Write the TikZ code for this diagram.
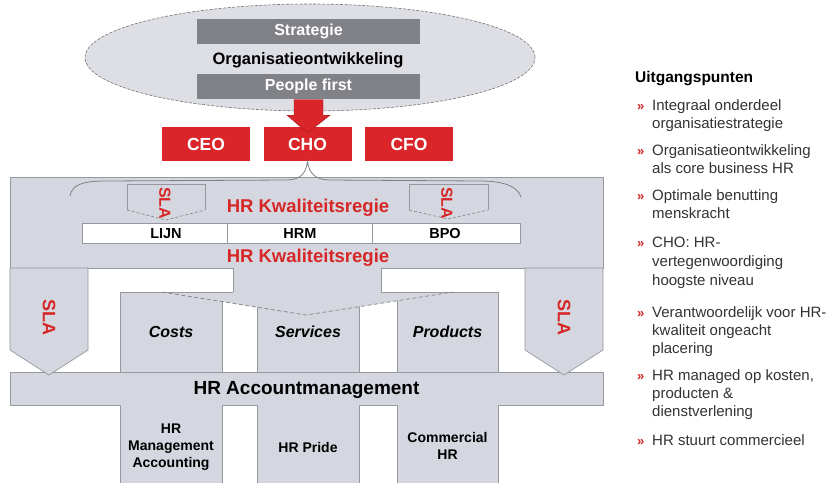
\documentclass[tikz,border=0pt]{standalone}
\usepackage{fontspec}
\setmainfont{Liberation Sans}
\usetikzlibrary{calc,shapes.geometric}
\definecolor{boxgray}{RGB}{212,215,223}
\definecolor{linegray}{RGB}{150,152,158}
\definecolor{bargray}{RGB}{128,130,136}
\definecolor{hrred}{RGB}{218,37,42}
\definecolor{txtred}{RGB}{214,38,38}
\definecolor{ellgray}{RGB}{221,223,229}
\begin{document}
\begin{tikzpicture}[x=1pt,y=-1pt,
 gline/.style={draw=linegray,line width=0.7pt},
 darkbar/.style={fill=bargray,text=white,font=\bfseries\fontsize{16}{16}\selectfont,minimum width=223pt,minimum height=25pt,inner sep=0pt},
 redbox/.style={fill=hrred,text=white,font=\bfseries\fontsize{17.5}{18}\selectfont,minimum width=88pt,minimum height=34pt,inner sep=0pt},
 redlbl/.style={text=txtred,font=\bfseries\fontsize{18.5}{19}\selectfont,inner sep=0pt},
 slalbl/.style={text=txtred,font=\bfseries\fontsize{18}{18}\selectfont,rotate=-90,inner sep=0pt},
 cell/.style={draw=linegray,fill=white,line width=0.6pt,minimum height=20pt,inner sep=0pt},
 celltxt/.style={font=\bfseries\fontsize{14.5}{15}\selectfont,inner sep=0pt},
 boxlbl/.style={font=\bfseries\itshape\fontsize{16}{16}\selectfont,inner sep=0pt},
 btxt/.style={font=\bfseries\fontsize{14}{16.7}\selectfont,align=center,inner sep=0pt},
 body/.style={font=\fontsize{15}{18}\selectfont,anchor=base west,inner sep=0pt,text=black!80},
 bulletmark/.style={font=\bfseries\fontsize{13}{13}\selectfont,text=txtred,anchor=base west,inner sep=0pt},
]
\useasboundingbox[fill=white] (0,0) rectangle (832,483);

% ---- ellipse with bars
\node[ellipse,draw=black!55,dash pattern=on 3pt off 1.5pt,line width=0.6pt,fill=ellgray,minimum width=450pt,minimum height=107pt,inner sep=0pt] (ell) at (310,57.5) {};
\node[darkbar] (strat) at (308.5,31) {Strategie};
\node[font=\bfseries\fontsize{16.5}{17}\selectfont,inner sep=0pt] (org) at (308,60) {Organisatieontwikkeling};
\node[darkbar] (pf) at (308.5,86.5) {People first};

% ---- red boxes
\node[redbox] (ceo) at (206,144) {CEO};
\node[redbox] (cho) at (307.5,144) {CHO};
\node[redbox] (cfo) at (409,144) {CFO};

% ---- red block arrow from People first to CHO
\filldraw[fill=hrred,draw=hrred!75!black,line width=0.4pt]
  ($(pf.south)+(-14.5,0.5)$) -- ($(pf.south)+(14.5,0.5)$) -- ($(pf.south)+(14.5,16)$)
  -- ($(pf.south)+(21.5,16)$) -- ($(cho.north)+(0,6)$) -- ($(pf.south)+(-21.5,16)$)
  -- ($(pf.south)+(-14.5,16)$) -- cycle;

% ---- Costs, Services, Products boxes
\node[gline,fill=boxgray,minimum width=102pt,minimum height=80pt,inner sep=0pt] (costs) at (171,332) {};
\node[gline,fill=boxgray,minimum width=102pt,minimum height=80pt,inner sep=0pt] (serv) at (308,332) {};
\node[gline,fill=boxgray,minimum width=101pt,minimum height=80pt,inner sep=0pt] (prod) at (447.5,332) {};

% ---- big gray band with tab
\fill[boxgray] (10,177) -- (603,177) -- (603,268) -- (381,268) -- (381,292) -- (233,292) -- (233,268) -- (10,268) -- cycle;
\fill[boxgray] (162,292) -- (453,292) -- (306,315) -- cycle;
\draw[gline] (233,292) -- (233,268) -- (10,268) -- (10,177) -- (603,177) -- (603,268) -- (381,268) -- (381,292);
\draw[gline] (120,292) -- (233,292);
\draw[gline] (381,292) -- (498,292);
\draw[draw=black!50,line width=0.7pt,dash pattern=on 4pt off 2.5pt] (162,292) -- (306,315) -- (453,292);

\node[boxlbl] (lcosts) at (costs.center) {Costs};
\node[boxlbl] (lserv) at (serv.center) {Services};
\node[boxlbl] (lprod) at (prod.center) {Products};

% ---- brace under CHO
\draw[linegray!85!black,line width=0.8pt] (70,196) .. controls (72,185) and (82,181) .. (105,181) -- (286,180) .. controls (300,180) and (306,174) .. (cho.south) .. controls (309,174) and (316,180) .. (330,180) -- (480,181) .. controls (505,181) and (518,187) .. (521,197);

% ---- small SLA pentagons
\draw[gline] (127,210) -- (127,184) -- (205,184) -- (205,210);
\draw[draw=black!50,line width=0.6pt,dash pattern=on 3pt off 2pt] (127,210) -- (166,220) -- (205,210);
\draw[gline] (409,210) -- (409,184) -- (488,184) -- (488,210);
\draw[draw=black!50,line width=0.6pt,dash pattern=on 3pt off 2pt] (409,210) -- (448,219) -- (488,210);
\node[slalbl,font=\bfseries\fontsize{16}{16}\selectfont] (slaA) at (165,203) {SLA};
\node[slalbl,font=\bfseries\fontsize{16}{16}\selectfont] (slaB) at (447,203) {SLA};

\node[redlbl] (kw1) at (308,208) {HR Kwaliteitsregie};

% ---- table
\node[cell,minimum width=145pt] (c1) at (154.5,233) {};
\node[cell,minimum width=145pt] (c2) at (299.5,233) {};
\node[cell,minimum width=148pt] (c3) at (446,233) {};
\node[celltxt] (t1) at (166,233.5) {LIJN};
\node[celltxt] (t2) at (300,233.5) {HRM};
\node[celltxt] (t3) at (445,233.5) {BPO};

\node[redlbl] (kw2) at (308,258) {HR Kwaliteitsregie};

% ---- account management bar and bottom boxes
\node[gline,fill=boxgray,minimum width=593pt,minimum height=33pt,inner sep=0pt] (acc) at (306.5,388.5) {};
\node[font=\bfseries\fontsize{19}{19}\selectfont,inner sep=0pt] (lacc) at (306.5,389.5) {HR Accountmanagement};
\fill[boxgray] (120,405) rectangle (222,483);
\fill[boxgray] (257,405) rectangle (359,483);
\fill[boxgray] (397,405) rectangle (498,483);
\draw[gline] (120,405) -- (120,483) (222,405) -- (222,483) (257,405) -- (257,483) (359,405) -- (359,483) (397,405) -- (397,483) (498,405) -- (498,483);
\node[btxt] (b1) at (171,447) {HR\\Management\\Accounting};
\node[btxt] (b2) at (308,447) {HR Pride};
\node[btxt] (b3) at (447.5,446) {Commercial\\HR};

% ---- side SLA arrows
\filldraw[gline,fill=boxgray] (10,268) -- (88,268) -- (88,350) -- (49,375) -- (10,350) -- cycle;
\filldraw[gline,fill=boxgray] (525,268) -- (603,268) -- (603,350) -- (564,375) -- (525,350) -- cycle;
\node[slalbl] (slaL) at (49,317) {SLA};
\node[slalbl] (slaR) at (564,317) {SLA};

% ---- right column
\node[font=\bfseries\fontsize{15.5}{18}\selectfont,anchor=base west,inner sep=0pt] (head) at (635,82) {Uitgangspunten};
\foreach \yy/\txt [count=\i] in {
  110/Integraal onderdeel, 128/organisatiestrategie,
  155/Organisatieontwikkeling, 173/als core business HR,
  200/Optimale benutting, 218/menskracht,
  247/CHO: HR-, 266/vertegenwoordiging, 285/hoogste niveau,
  317/Verantwoordelijk voor HR-, 335/kwaliteit ongeacht, 353/placering,
  380/{HR managed op kosten,}, 398/producten \&, 416/dienstverlening,
  445/HR stuurt commercieel}
  \node[body] (r\i) at (652,\yy) {\txt};
\foreach \yy [count=\i] in {110,155,200,247,317,380,445}
  \node[bulletmark] (m\i) at (637,\yy) {»};
\end{tikzpicture}
\end{document}
